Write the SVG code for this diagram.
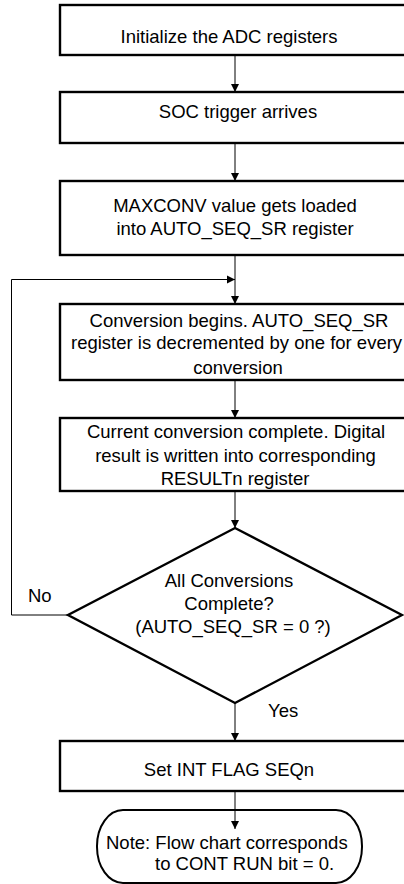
<svg xmlns="http://www.w3.org/2000/svg" width="404" height="884" viewBox="0 0 404 884">
  <style>
    .box { fill: #fff; stroke: #000; stroke-width: 2.4; }
    .wire { fill: none; stroke: #000; stroke-width: 1; }
    text { font-family: "Liberation Sans", Arial, sans-serif; font-size: 18.5px; fill: #000; }
    .c { text-anchor: middle; }
  </style>
  <defs>
    <marker id="arrow" viewBox="0 0 10 10" refX="10" refY="5" markerWidth="8" markerHeight="9" markerUnits="userSpaceOnUse" orient="auto">
      <path d="M0,0 L10,5 L0,10 Z" fill="#000"/>
    </marker>
  </defs>
  <rect width="404" height="884" fill="#fff"/>

  <g id="init">
    <rect class="box" x="60" y="5" width="352" height="50"/>
    <text class="c" x="229" y="43">Initialize the ADC registers</text>
  </g>

  <g id="soc">
    <rect class="box" x="60" y="92" width="352" height="51"/>
    <text class="c" x="238" y="118">SOC trigger arrives</text>
  </g>

  <g id="maxconv">
    <rect class="box" x="60" y="181" width="352" height="74"/>
    <text class="c" x="235" y="211.5">MAXCONV value gets loaded</text>
    <text class="c" x="235" y="235">into AUTO_SEQ_SR register</text>
  </g>

  <g id="begin">
    <rect class="box" x="60" y="304" width="352" height="76"/>
    <text class="c" x="239" y="326.5">Conversion begins. AUTO_SEQ_SR</text>
    <text x="71" y="349">register is decremented by one for every</text>
    <text class="c" x="238" y="373.5">conversion</text>
  </g>

  <g id="complete">
    <rect class="box" x="60" y="418" width="352" height="73"/>
    <text class="c" x="236" y="438">Current conversion complete. Digital</text>
    <text class="c" x="235.5" y="462">result is written into corresponding</text>
    <text class="c" x="235" y="485">RESULTn register</text>
  </g>

  <g id="decision">
    <polygon class="box" points="235,528 402,615 235,703 68,615"/>
    <text class="c" x="229" y="587">All Conversions</text>
    <text class="c" x="229" y="610">Complete?</text>
    <text class="c" x="233" y="633">(AUTO_SEQ_SR = 0 ?)</text>
  </g>

  <g id="intflag">
    <rect class="box" x="60" y="741" width="352" height="50"/>
    <text class="c" x="229" y="776">Set INT FLAG SEQn</text>
  </g>

  <g id="note">
    <rect x="97" y="810" width="265" height="73" rx="26" ry="36" fill="#fff" stroke="#000" stroke-width="2"/>
    <text x="106" y="849">Note: Flow chart corresponds</text>
    <text x="155" y="870">to CONT RUN bit = 0.</text>
  </g>

  <!-- connectors, drawn last so arrow tips sit on top of the shapes -->
  <g id="connectors">
    <path class="wire" d="M235,56 V92" marker-end="url(#arrow)"/>
    <path class="wire" d="M235,144 V181" marker-end="url(#arrow)"/>
    <path class="wire" d="M235,256 V304" marker-end="url(#arrow)"/>
    <path class="wire" d="M68,615 H11.5 V279.5 H235" marker-end="url(#arrow)"/>
    <path class="wire" d="M235,381 V418" marker-end="url(#arrow)"/>
    <path class="wire" d="M235,492 V528" marker-end="url(#arrow)"/>
    <path class="wire" d="M235,703 V741" marker-end="url(#arrow)"/>
    <path class="wire" d="M235,792 V829" marker-end="url(#arrow)"/>
    <text x="28" y="602">No</text>
    <text x="268" y="717">Yes</text>
  </g>
</svg>
